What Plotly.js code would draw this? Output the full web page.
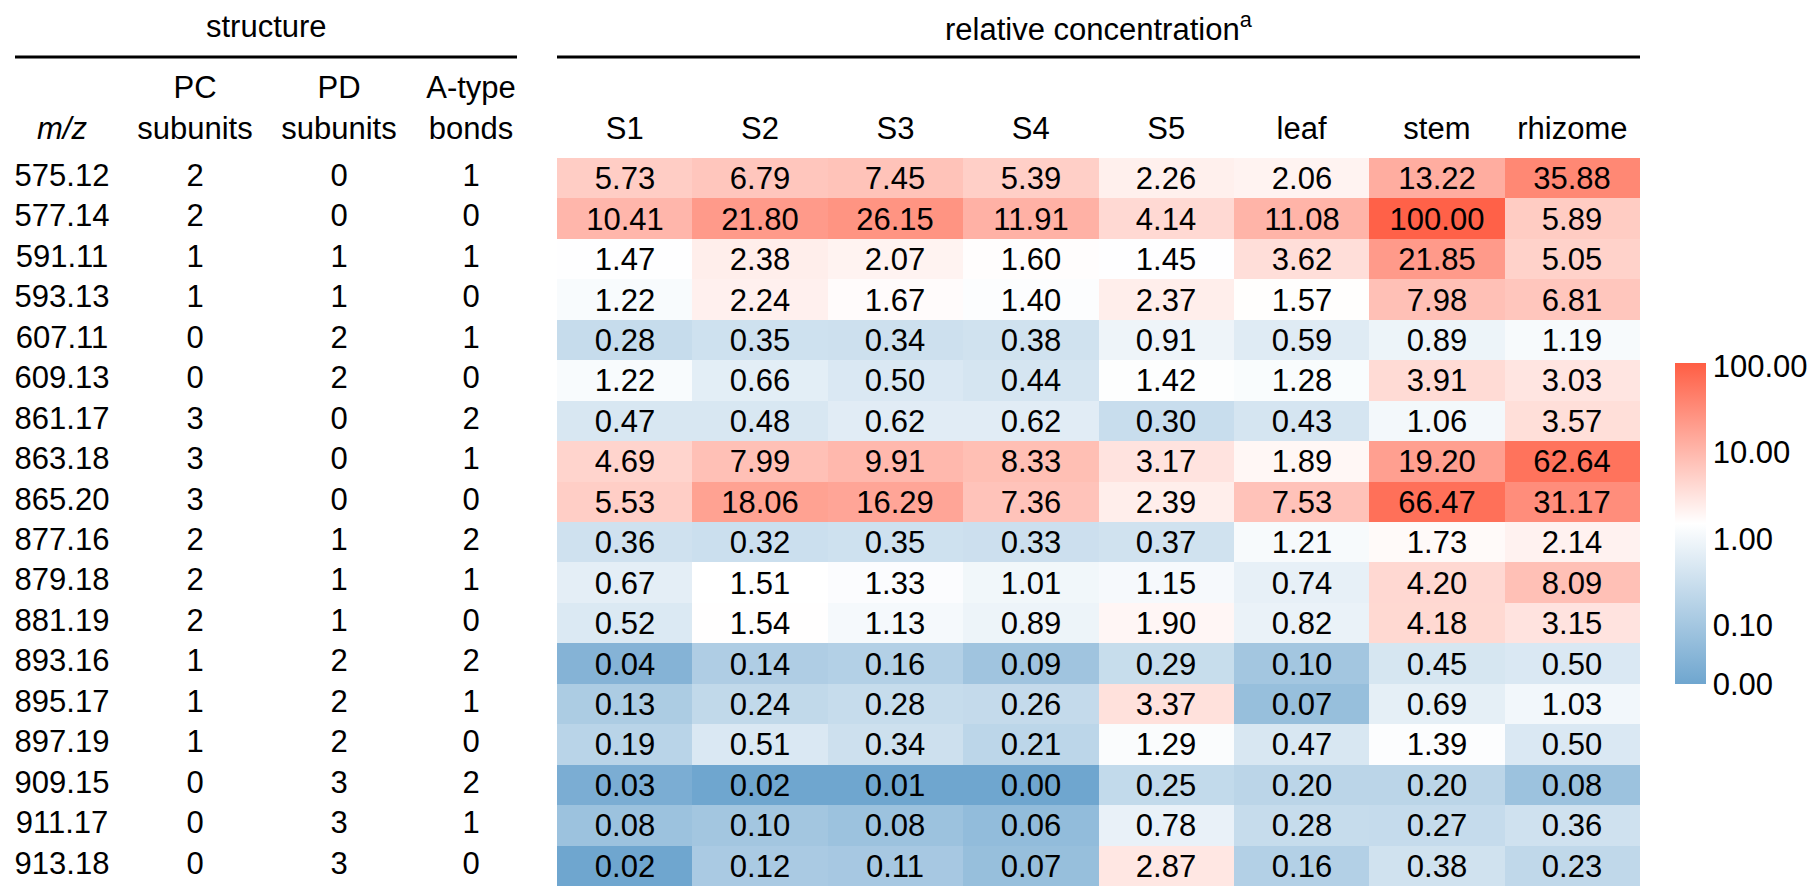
<!DOCTYPE html>
<html>
<head>
<meta charset="utf-8">
<script src="https://cdn.plot.ly/plotly-3.0.1.min.js"></script>
<style>
  html, body { margin: 0; padding: 0; background: #ffffff; }
  #chart { width: 1816px; height: 886px; }
</style>
</head>
<body>
<div id="chart"></div>
<script>
// Oligomer structures
const mz = ['575.12','577.14','591.11','593.13','607.11','609.13','861.17','863.18','865.20',
            '877.16','879.18','881.19','893.16','895.17','897.19','909.15','911.17','913.18'];
const pcSubunits = [2,2,1,1,0,0,3,3,3,2,2,2,1,1,1,0,0,0];
const pdSubunits = [0,0,1,1,2,2,0,0,0,1,1,1,2,2,2,3,3,3];
const aTypeBonds = [1,0,1,0,1,0,2,1,0,2,1,0,2,1,0,2,1,0];

// Relative concentration per sample
const samples = ['S1','S2','S3','S4','S5','leaf','stem','rhizome'];
const s1      = [5.73,10.41,1.47,1.22,0.28,1.22,0.47,4.69,5.53,0.36,0.67,0.52,0.04,0.13,0.19,0.03,0.08,0.02];
const s2      = [6.79,21.80,2.38,2.24,0.35,0.66,0.48,7.99,18.06,0.32,1.51,1.54,0.14,0.24,0.51,0.02,0.10,0.12];
const s3      = [7.45,26.15,2.07,1.67,0.34,0.50,0.62,9.91,16.29,0.35,1.33,1.13,0.16,0.28,0.34,0.01,0.08,0.11];
const s4      = [5.39,11.91,1.60,1.40,0.38,0.44,0.62,8.33,7.36,0.33,1.01,0.89,0.09,0.26,0.21,0.00,0.06,0.07];
const s5      = [2.26,4.14,1.45,2.37,0.91,1.42,0.30,3.17,2.39,0.37,1.15,1.90,0.29,3.37,1.29,0.25,0.78,2.87];
const leaf    = [2.06,11.08,3.62,1.57,0.59,1.28,0.43,1.89,7.53,1.21,0.74,0.82,0.10,0.07,0.47,0.20,0.28,0.16];
const stem    = [13.22,100.00,21.85,7.98,0.89,3.91,1.06,19.20,66.47,1.73,4.20,4.18,0.45,0.69,1.39,0.20,0.27,0.38];
const rhizome = [35.88,5.89,5.05,6.81,1.19,3.03,3.57,62.64,31.17,2.14,8.09,3.15,0.50,1.03,0.50,0.08,0.36,0.23];

// Colour bar ticks
const cbTickValues = [100, 10, 1, 0.1];
const cbTickLabels = ['100.00','10.00','1.00','0.10','0.00'];

// ---- geometry & style ----
const W = 1816, H = 886;
const FONT = 'Liberation Sans, Arial, Helvetica, sans-serif';
const FS = 31;
const heatLeft = 557, heatRight = 1640, heatTop = 158;
const leftTableWidth = 557;
const leftColX = [62, 195, 339, 471];
const Z_MIN = -1.676, Z_MAX = 2.035;   // log10 range of the colour scale

const series = [s1, s2, s3, s4, s5, leaf, stem, rhizome];
const floorVal = Math.pow(10, Z_MIN);

// z[row][col] in log10 units, text shows the plain value
const z = mz.map((_, r) => series.map(col => Math.log10(Math.max(col[r], floorVal))));
const txt = mz.map((_, r) => series.map(col => col[r].toFixed(2)));

const heat = {
  type: 'heatmap',
  x: samples,
  y: mz,
  z: z,
  text: txt,
  texttemplate: '%{text}',
  textfont: { family: FONT, size: FS, color: '#000000' },
  zmin: Z_MIN,
  zmax: Z_MAX,
  colorscale: [[0, '#6fa6cf'], [0.5, '#ffffff'], [1, '#ff5e44']],
  xgap: 0, ygap: 0,
  hoverinfo: 'skip',
  colorbar: {
    thickness: 31, thicknessmode: 'pixels',
    len: 321, lenmode: 'pixels',
    x: 1675 / W, xanchor: 'left', xpad: 0,
    y: 1 - 523.5 / H, yanchor: 'middle', ypad: 0,
    outlinewidth: 0,
    ticks: '',
    tickmode: 'array',
    tickvals: cbTickValues.map(v => Math.log10(v)).concat([Z_MIN]),
    ticktext: cbTickLabels,
    tickfont: { family: FONT, size: FS, color: '#000000' }
  }
};

// left-hand structure table, one text trace per column
const tableCols = [mz, pcSubunits, pdSubunits, aTypeBonds];
const tableTraces = tableCols.map((col, i) => ({
  type: 'scatter',
  mode: 'text',
  xaxis: 'x2',
  yaxis: 'y',
  x: mz.map(() => leftColX[i]),
  y: mz,
  text: col.map(String),
  textposition: 'middle center',
  textfont: { family: FONT, size: FS, color: '#000000' },
  hoverinfo: 'skip',
  showlegend: false
}));

const yTop = 1 - heatTop / H;
const lineY = 1 - 57 / H;

const layout = {
  width: W, height: H,
  margin: { l: 0, r: 0, t: 0, b: 0, pad: 0, autoexpand: false },
  paper_bgcolor: '#ffffff',
  plot_bgcolor: '#ffffff',
  font: { family: FONT, size: FS, color: '#000000' },
  showlegend: false,
  xaxis: {
    domain: [heatLeft / W, heatRight / W],
    anchor: 'y',
    side: 'top',
    type: 'category',
    range: [-0.5, samples.length - 0.5],
    automargin: false,
    showgrid: false, zeroline: false, showline: false,
    ticks: '',
    ticklabelstandoff: 12,
    tickfont: { family: FONT, size: FS, color: '#000000' },
    fixedrange: true
  },
  xaxis2: {
    domain: [0, leftTableWidth / W],
    anchor: 'y',
    side: 'top',
    range: [0, leftTableWidth],
    automargin: false,
    showgrid: false, zeroline: false, showline: false,
    ticks: '',
    tickmode: 'array',
    tickvals: leftColX,
    ticktext: ['<i>m/z</i>', 'PC<br>subunits', 'PD<br>subunits', 'A-type<br>bonds'],
    ticklabelstandoff: 12,
    tickfont: { family: FONT, size: FS, color: '#000000' },
    fixedrange: true
  },
  yaxis: {
    domain: [0, yTop],
    type: 'category',
    range: [mz.length - 0.5, -0.5],
    automargin: false,
    showticklabels: false,
    showgrid: false, zeroline: false, showline: false,
    ticks: '',
    fixedrange: true
  },
  shapes: [
    { type: 'line', xref: 'paper', yref: 'paper', x0: 15 / W, x1: 517 / W, y0: lineY, y1: lineY,
      line: { color: '#000000', width: 3 } },
    { type: 'line', xref: 'paper', yref: 'paper', x0: heatLeft / W, x1: heatRight / W, y0: lineY, y1: lineY,
      line: { color: '#000000', width: 3 } }
  ],
  annotations: [
    { xref: 'paper', yref: 'paper', x: 266 / W, y: 1 - 27 / H, xanchor: 'center', yanchor: 'middle',
      text: 'structure', showarrow: false, font: { family: FONT, size: FS, color: '#000000' } },
    { xref: 'paper', yref: 'paper', x: (heatLeft + heatRight) / 2 / W, y: 1 - 27 / H, xanchor: 'center', yanchor: 'middle',
      text: 'relative concentration<sup>a</sup>', showarrow: false, font: { family: FONT, size: FS, color: '#000000' } }
  ]
};

Plotly.newPlot('chart', [heat].concat(tableTraces), layout, { displayModeBar: false, staticPlot: true });
</script>
</body>
</html>
